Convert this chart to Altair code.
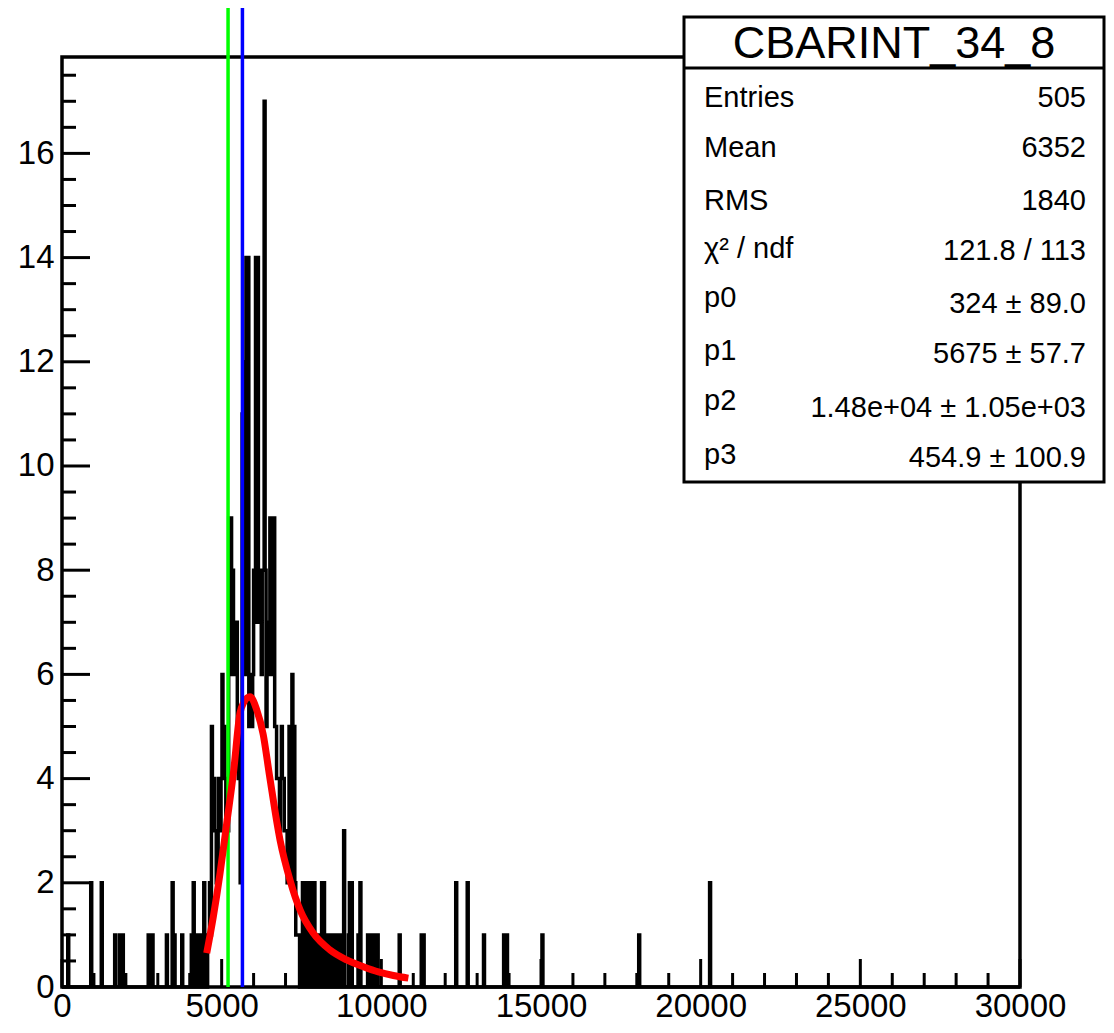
import altair as alt
import pandas as pd

# ---------------- data ----------------
BIN_WIDTH = 30
N_BINS = 1000
X_MAX = 30000
Y_MAX = 17.85

# non-empty bins (bin index, count)
bin_index = [6, 30, 41, 55, 60, 63, 90, 94, 109, 115, 117, 125, 135, 137, 139, 140, 142, 144, 145,
             146, 148, 149, 150, 152, 153, 154, 155,
             156, 157, 158, 159, 160, 161, 162, 163, 164, 165, 166, 167, 168, 169, 170, 171, 172, 173, 174, 175,
             176, 177, 178, 179, 180, 181, 182, 183, 184, 185, 186, 187, 188, 189, 190, 191, 192, 193, 194, 195,
             196, 197, 198, 199, 200, 201, 202, 203, 204, 205, 206, 207, 208, 209, 210, 211, 212, 213, 214, 215,
             216, 217, 218, 219, 220, 221, 222, 223, 224, 225, 226, 227, 228, 229, 230, 231, 232, 233, 234, 235,
             236, 237, 238, 239, 240, 241, 242, 243, 244, 245, 246,
             247, 249, 251, 252, 253, 255, 256, 258, 259, 260, 262, 263, 264, 266, 268, 270, 271, 273, 274, 276,
             278, 280, 282, 284, 286, 289, 293, 294, 299, 300, 302, 309, 311, 319, 321, 324, 327, 329, 352, 375,
             377, 411, 423, 440, 461, 464, 501, 602, 676]
bin_count = [1, 2, 2, 1, 1, 1, 1, 1, 1, 2, 1, 1, 1, 2, 1, 1, 1, 1, 1,
             1, 2, 1, 1, 1, 1, 2, 1,
             5, 3, 4, 3, 3, 2, 2, 4, 3, 3, 4, 6, 4, 5, 4, 3, 4, 3, 9, 6,
             9, 6, 8, 6, 7, 6, 7, 5, 4, 4, 2, 5, 11, 12, 8, 6, 14, 8, 14, 5,
             6, 6, 5, 6, 8, 7, 14, 8, 14, 7, 8, 8, 6, 8, 8, 17, 8, 5, 6, 7,
             6, 9, 7, 9, 6, 9, 5, 5, 4, 4, 4, 3, 4, 5, 4, 4, 3, 3, 3, 2,
             3, 5, 3, 2, 6, 3, 5, 2, 1, 1, 1,
             1, 1, 2, 1, 2, 1, 2, 2, 1, 2, 1, 2, 1, 1, 1, 1, 2, 2, 1, 1,
             1, 1, 1, 1, 1, 1, 1, 3, 1, 2, 2, 1, 2, 1, 1, 1, 1, 1, 1, 1,
             1, 2, 2, 1, 1, 1, 1, 1, 2]

# fit curve
fit_x = [4532, 4739, 4948, 5158, 5367, 5575, 5680, 5888, 6098, 6300, 6500, 6828, 7141, 7454,
         7871, 8394, 8916, 9437, 9907, 10377, 10846]
fit_y = [0.65, 1.35, 2.18, 3.14, 4.10, 5.26, 5.45, 5.57, 5.32, 4.85, 4.05, 2.82, 2.05, 1.48,
         1.03, 0.71, 0.52, 0.39, 0.29, 0.22, 0.17]

green_x = [5200]
blue_x = [5650]

x_major = [0, 5000, 10000, 15000, 20000, 25000, 30000]
x_minor = [v for v in range(0, 30001, 1000) if v % 5000 != 0]
y_major = [0, 2, 4, 6, 8, 10, 12, 14, 16]
y_minor = [v / 2 for v in range(0, 36) if v % 4 != 0]

box_title = "CBARINT_34_8"
stat_labels = ["Entries", "Mean", "RMS", "χ² / ndf", "p0", "p1", "p2", "p3"]
stat_values = ["505", "6352", "1840", "121.8 / 113", "324 ± 89.0", "5675 ± 57.7",
               "1.48e+04 ± 1.05e+03", "454.9 ± 100.9"]

# ---------------- build ----------------
W, H = 958, 930
FONT = "Liberation Sans"

counts = [0] * N_BINS
for i, c in zip(bin_index, bin_count):
    counts[i] = c
hist_df = pd.DataFrame({
    "x": [i * BIN_WIDTH for i in range(N_BINS)] + [X_MAX],
    "y": counts + [counts[-1]],
})

xscale = alt.Scale(domain=[0, X_MAX], nice=False, zero=False)
yscale = alt.Scale(domain=[0, Y_MAX], nice=False, zero=False)

xaxis = alt.Axis(values=x_major, format="d", ticks=False, domain=False, grid=False, title=None,
                 labelFont=FONT, labelFontSize=33, labelColor="black", labelPadding=3,
                 labelFlush=False, labelOverlap=False, labelBound=False)
yaxis = alt.Axis(values=y_major, format="d", ticks=False, domain=False, grid=False, title=None,
                 labelFont=FONT, labelFontSize=33, labelColor="black", labelPadding=8,
                 labelOverlap=False, labelFlush=False)

X = lambda f: alt.X(f, scale=xscale, axis=xaxis)
Y = lambda f: alt.Y(f, scale=yscale, axis=yaxis)

hist = alt.Chart(hist_df).mark_line(
    interpolate="step-after", color="black", strokeWidth=3.5
).encode(x=X("x:Q"), y=Y("y:Q"))

def xticks(vals, length):
    return alt.Chart(pd.DataFrame({"x": vals})).mark_rule(color="black", strokeWidth=3).encode(
        x=X("x:Q"), y=alt.value(H), y2=alt.value(H - length))

def yticks(vals, length):
    return alt.Chart(pd.DataFrame({"y": vals})).mark_rule(color="black", strokeWidth=3).encode(
        y=Y("y:Q"), x=alt.value(0), x2=alt.value(length))

def vline(vals, color):
    return alt.Chart(pd.DataFrame({"x": vals})).mark_rule(color=color, strokeWidth=3.5).encode(
        x=X("x:Q"), y=alt.value(-49), y2=alt.value(H))

fit = alt.Chart(pd.DataFrame({"x": fit_x, "y": fit_y})).mark_line(
    color="#ff0000", strokeWidth=7, interpolate="monotone", strokeCap="butt"
).encode(x=X("x:Q"), y=Y("y:Q"))

one = pd.DataFrame({"a": [0]})
BX0, BX1, BY0, BY1, BDIV = 622, 1042, -40, 425, 11
box = alt.Chart(one).mark_rect(fill="white", stroke="black", strokeWidth=3).encode(
    x=alt.value(BX0), x2=alt.value(BX1), y=alt.value(BY0), y2=alt.value(BY1))
div = alt.Chart(one).mark_rule(color="black", strokeWidth=3).encode(
    x=alt.value(BX0), x2=alt.value(BX1), y=alt.value(BDIV))
title_txt = alt.Chart(pd.DataFrame({"t": [box_title]})).mark_text(
    font=FONT, fontSize=45, align="center", baseline="alphabetic", color="black"
).encode(text="t:N", x=alt.value((BX0 + BX1) / 2), y=alt.value(1))

label_y = [50, 100, 153, 201, 250, 303, 353, 407]
value_y = [50, 100, 153, 203, 256, 306, 360, 410]
texts = []
for lab, val, ly, vy in zip(stat_labels, stat_values, label_y, value_y):
    texts.append(alt.Chart(pd.DataFrame({"t": [lab]})).mark_text(
        font=FONT, fontSize=29, align="left", baseline="alphabetic", color="black"
    ).encode(text="t:N", x=alt.value(642), y=alt.value(ly)))
    texts.append(alt.Chart(pd.DataFrame({"t": [val]})).mark_text(
        font=FONT, fontSize=29, align="right", baseline="alphabetic", color="black"
    ).encode(text="t:N", x=alt.value(1024), y=alt.value(vy)))

chart = alt.layer(
    hist,
    xticks(x_minor, 14), xticks(x_major, 28),
    yticks(y_minor, 14), yticks(y_major, 28),
    vline(green_x, "#00ff00"),
    fit,
    vline(blue_x, "#0000ff"),
    box, div, title_txt, *texts,
).properties(
    width=W, height=H,
    autosize=alt.AutoSizeParams(type="none"),
    padding={"left": 54, "top": 49, "right": 86, "bottom": 37},
    background="white",
).configure_view(stroke="black", strokeWidth=3.5)

chart.save("out.html", embed_options={"renderer": "svg", "actions": False})
